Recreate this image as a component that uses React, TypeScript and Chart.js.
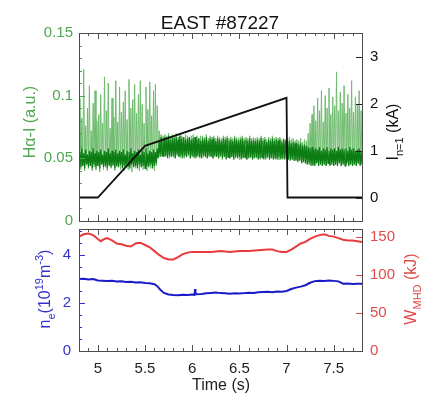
import { useEffect, useRef } from "react";
import { Chart, registerables } from "chart.js";

Chart.register(...registerables);

// ---------------- data ----------------
const TITLE = "EAST #87227";
const X_MIN = 4.8;
const X_MAX = 7.8;
const X_TICKS = [5, 5.5, 6, 6.5, 7, 7.5];

const HA_TICKS = [0, 0.05, 0.1, 0.15];
const I_TICKS = [0, 1, 2, 3];
const NE_TICKS = [0, 2, 4];
const W_TICKS = [0, 50, 100, 150];

// H-alpha samples, every 0.01 s starting at 4.80 s
const HA_T0 = 4.8;
const HA_DT = 0.01;
const HA_LIGHT = [
  0.045, 0.098, 0.041, 0.082, 0.044, 0.121, 0.040, 0.076, 0.046, 0.090,
  0.042, 0.108, 0.045, 0.072, 0.040, 0.094, 0.043, 0.104, 0.041, 0.080,
  0.044, 0.085, 0.039, 0.101, 0.046, 0.078, 0.041, 0.115, 0.043, 0.088,
  0.040, 0.110, 0.045, 0.074, 0.042, 0.098, 0.044, 0.083, 0.040, 0.112,
  0.043, 0.079, 0.046, 0.107, 0.041, 0.087, 0.044, 0.095, 0.040, 0.104,
  0.045, 0.081, 0.041, 0.113, 0.044, 0.090, 0.039, 0.097, 0.043, 0.109,
  0.042, 0.086, 0.045, 0.101, 0.040, 0.112, 0.043, 0.093, 0.041, 0.078,
  0.044, 0.107, 0.040, 0.089, 0.045, 0.111, 0.042, 0.084, 0.043, 0.104,
  0.040, 0.109, 0.044, 0.092, 0.058, 0.072, 0.054, 0.069, 0.053, 0.068,
  0.052, 0.069, 0.051, 0.068, 0.053, 0.070, 0.050, 0.067, 0.052, 0.069,
  0.051, 0.068, 0.050, 0.070, 0.052, 0.067, 0.051, 0.069, 0.050, 0.068,
  0.052, 0.067, 0.050, 0.069, 0.051, 0.068, 0.052, 0.066, 0.050, 0.068,
  0.051, 0.069, 0.050, 0.067, 0.052, 0.068, 0.051, 0.066, 0.050, 0.068,
  0.050, 0.068, 0.051, 0.067, 0.052, 0.069, 0.050, 0.066, 0.051, 0.068,
  0.052, 0.067, 0.050, 0.068, 0.051, 0.066, 0.052, 0.068, 0.050, 0.067,
  0.051, 0.066, 0.049, 0.068, 0.052, 0.067, 0.050, 0.068, 0.051, 0.066,
  0.050, 0.067, 0.051, 0.066, 0.049, 0.068, 0.050, 0.067, 0.051, 0.066,
  0.049, 0.067, 0.050, 0.068, 0.051, 0.066, 0.050, 0.067, 0.049, 0.066,
  0.051, 0.068, 0.050, 0.066, 0.049, 0.067, 0.051, 0.066, 0.050, 0.067,
  0.050, 0.066, 0.049, 0.068, 0.050, 0.066, 0.051, 0.067, 0.049, 0.065,
  0.050, 0.067, 0.049, 0.066, 0.051, 0.068, 0.050, 0.066, 0.049, 0.067,
  0.050, 0.066, 0.049, 0.067, 0.050, 0.065, 0.049, 0.066, 0.050, 0.065,
  0.050, 0.066, 0.049, 0.067, 0.050, 0.065, 0.049, 0.066, 0.048, 0.064,
  0.049, 0.065, 0.048, 0.064, 0.049, 0.066, 0.047, 0.063, 0.048, 0.065,
  0.047, 0.064, 0.046, 0.070, 0.045, 0.078, 0.046, 0.085, 0.044, 0.092,
  0.045, 0.080, 0.047, 0.098, 0.044, 0.088, 0.046, 0.104, 0.045, 0.079,
  0.047, 0.100, 0.044, 0.090, 0.046, 0.106, 0.045, 0.085, 0.047, 0.099,
  0.044, 0.092, 0.046, 0.119, 0.045, 0.088, 0.047, 0.103, 0.044, 0.094,
  0.046, 0.108, 0.045, 0.086, 0.047, 0.101, 0.044, 0.090, 0.046, 0.112,
  0.045, 0.087, 0.047, 0.099, 0.044, 0.093, 0.046, 0.104, 0.045, 0.088,
  0.047,
];
const HA_DARK = [
  0.046, 0.055, 0.043, 0.058, 0.044, 0.054, 0.042, 0.057, 0.045, 0.053,
  0.043, 0.056, 0.044, 0.055, 0.042, 0.058, 0.045, 0.054, 0.043, 0.056,
  0.044, 0.055, 0.042, 0.057, 0.045, 0.053, 0.043, 0.056, 0.044, 0.055,
  0.042, 0.058, 0.044, 0.054, 0.043, 0.056, 0.045, 0.055, 0.042, 0.057,
  0.044, 0.054, 0.043, 0.056, 0.045, 0.055, 0.042, 0.057, 0.044, 0.053,
  0.043, 0.056, 0.044, 0.055, 0.042, 0.058, 0.045, 0.054, 0.043, 0.056,
  0.044, 0.055, 0.042, 0.057, 0.045, 0.053, 0.043, 0.056, 0.044, 0.055,
  0.042, 0.058, 0.044, 0.054, 0.043, 0.056, 0.045, 0.055, 0.042, 0.057,
  0.044, 0.055, 0.046, 0.058, 0.050, 0.064, 0.051, 0.067, 0.052, 0.066,
  0.051, 0.067, 0.052, 0.066, 0.050, 0.068, 0.052, 0.065, 0.051, 0.067,
  0.052, 0.066, 0.050, 0.067, 0.053, 0.065, 0.051, 0.068, 0.052, 0.066,
  0.050, 0.067, 0.052, 0.065, 0.051, 0.066, 0.053, 0.067, 0.050, 0.065,
  0.052, 0.066, 0.051, 0.067, 0.050, 0.065, 0.052, 0.066, 0.051, 0.064,
  0.050, 0.066, 0.052, 0.065, 0.051, 0.067, 0.050, 0.064, 0.052, 0.066,
  0.051, 0.065, 0.050, 0.066, 0.052, 0.064, 0.051, 0.066, 0.050, 0.065,
  0.052, 0.064, 0.050, 0.066, 0.051, 0.065, 0.049, 0.066, 0.051, 0.064,
  0.050, 0.065, 0.051, 0.064, 0.049, 0.066, 0.051, 0.065, 0.050, 0.064,
  0.051, 0.065, 0.049, 0.066, 0.050, 0.064, 0.051, 0.065, 0.049, 0.064,
  0.050, 0.066, 0.051, 0.064, 0.049, 0.065, 0.050, 0.064, 0.051, 0.065,
  0.049, 0.064, 0.050, 0.066, 0.051, 0.064, 0.049, 0.065, 0.050, 0.063,
  0.051, 0.065, 0.049, 0.064, 0.050, 0.066, 0.049, 0.064, 0.050, 0.065,
  0.049, 0.064, 0.051, 0.065, 0.049, 0.063, 0.050, 0.065, 0.049, 0.064,
  0.050, 0.063, 0.049, 0.064, 0.048, 0.062, 0.049, 0.063, 0.048, 0.062,
  0.048, 0.062, 0.047, 0.061, 0.048, 0.062, 0.046, 0.060, 0.047, 0.061,
  0.046, 0.060, 0.045, 0.059, 0.046, 0.058, 0.044, 0.059, 0.045, 0.057,
  0.044, 0.058, 0.046, 0.057, 0.044, 0.059, 0.045, 0.056, 0.044, 0.058,
  0.045, 0.057, 0.044, 0.059, 0.046, 0.056, 0.044, 0.058, 0.045, 0.057,
  0.044, 0.058, 0.045, 0.056, 0.044, 0.059, 0.046, 0.057, 0.044, 0.058,
  0.045, 0.057, 0.044, 0.058, 0.046, 0.056, 0.044, 0.059, 0.045, 0.057,
  0.044, 0.058, 0.045, 0.056, 0.044, 0.057, 0.046, 0.058, 0.044, 0.056,
  0.045,
];

// n=1 coil current (kA)
const I_T = [4.8, 5.0, 5.5, 7.0, 7.01, 7.8];
const I_VAL = [0, 0, 1.1, 2.12, 0, 0];

// line-averaged density (1e19 m^-3)
const NE_T = [
  4.8, 4.85, 4.9, 4.95, 5.0, 5.05, 5.1, 5.15, 5.2, 5.25, 5.3, 5.35, 5.4, 5.45,
  5.5, 5.55, 5.6, 5.63, 5.66, 5.7, 5.75, 5.8, 5.85, 5.9, 5.95, 6.0, 6.025, 6.03,
  6.035, 6.1, 6.15, 6.2, 6.25, 6.3, 6.35, 6.4, 6.45, 6.5, 6.55, 6.6, 6.65, 6.7,
  6.75, 6.8, 6.85, 6.9, 6.95, 7.0, 7.05, 7.1, 7.15, 7.2, 7.25, 7.3, 7.35, 7.4,
  7.45, 7.5, 7.55, 7.6, 7.65, 7.7, 7.75, 7.8,
];
const NE_VAL = [
  3.0, 3.01, 2.98, 3.0, 2.94, 2.93, 2.91, 2.92, 2.89, 2.9, 2.87, 2.88, 2.85, 2.86,
  2.83, 2.82, 2.78, 2.7, 2.56, 2.42, 2.35, 2.33, 2.32, 2.34, 2.33, 2.35, 2.34, 2.58,
  2.36, 2.37, 2.4, 2.42, 2.44, 2.41, 2.4, 2.38, 2.4, 2.39, 2.41, 2.43, 2.42, 2.45,
  2.46, 2.47, 2.45, 2.48, 2.47, 2.5, 2.58, 2.64, 2.68, 2.74, 2.84, 2.91, 2.93, 2.92,
  2.94, 2.92, 2.9, 2.8, 2.81, 2.79, 2.8, 2.8,
];

// stored energy W_MHD (kJ)
const W_T = [
  4.8, 4.85, 4.9, 4.95, 5.0, 5.03, 5.07, 5.1, 5.15, 5.2, 5.25, 5.3, 5.35, 5.4,
  5.45, 5.5, 5.55, 5.6, 5.65, 5.7, 5.75, 5.8, 5.85, 5.9, 5.95, 6.0, 6.1, 6.2,
  6.3, 6.4, 6.5, 6.6, 6.7, 6.8, 6.85, 6.9, 6.95, 7.0, 7.05, 7.1, 7.15, 7.2,
  7.25, 7.3, 7.35, 7.4, 7.45, 7.5, 7.55, 7.6, 7.65, 7.7, 7.75, 7.8,
];
const W_VAL = [
  150, 153, 154, 152, 147, 144, 147, 148, 145, 141, 140, 138, 137, 141,
  142, 139, 136, 131, 126, 122, 120, 120, 123, 127, 129, 130, 130, 130,
  131, 130, 131, 131, 132, 133, 133, 131, 130, 130, 133, 137, 141, 143,
  147, 150, 152, 153, 151, 150, 148, 146, 145, 145, 144, 143,
];

// ---------------- styling ----------------
const FONT = '"Liberation Sans", Arial, Helvetica, sans-serif';
const GREEN_TXT = "#4ea64e";
const BLUE_TXT = "#3333cc";
const RED_TXT = "#e24a4a";

type Seg = { t: string; s?: "sub" | "sup" };

function drawRich(
  ctx: CanvasRenderingContext2D,
  segs: Seg[],
  x: number,
  y: number,
  size: number,
  color: string,
  rotate: boolean
) {
  ctx.save();
  ctx.translate(x, y);
  if (rotate) ctx.rotate(-Math.PI / 2);
  ctx.fillStyle = color;
  ctx.textAlign = "left";
  ctx.textBaseline = "alphabetic";
  const fontOf = (s?: string) => `${s ? Math.round(size * 0.68) : size}px ${FONT}`;
  let total = 0;
  for (const g of segs) {
    ctx.font = fontOf(g.s);
    total += ctx.measureText(g.t).width;
  }
  let cx = -total / 2;
  const base = size * 0.36;
  for (const g of segs) {
    ctx.font = fontOf(g.s);
    const dy = g.s === "sub" ? size * 0.32 : g.s === "sup" ? -size * 0.42 : 0;
    ctx.fillText(g.t, cx, base + dy);
    cx += ctx.measureText(g.t).width;
  }
  ctx.restore();
}

type AxisTicks = {
  id: string;
  edges: ("top" | "bottom" | "left" | "right")[];
  major: number[];
  minorStep: number;
  color: string;
};

type TextItem = {
  segs: Seg[];
  x: number;
  y: number;
  size: number;
  color: string;
  rotate: boolean;
};

function decorPlugin(axes: AxisTicks[], texts: TextItem[]) {
  return {
    id: "decor",
    afterDraw(chart: any) {
      const ctx: CanvasRenderingContext2D = chart.ctx;
      const a = chart.chartArea;
      ctx.save();
      ctx.lineWidth = 1;
      for (const ax of axes) {
        const sc = chart.scales[ax.id];
        const vals: { v: number; major: boolean }[] = ax.major.map((v) => ({ v, major: true }));
        if (ax.minorStep > 0) {
          const n0 = Math.ceil(sc.min / ax.minorStep - 1e-9);
          const n1 = Math.floor(sc.max / ax.minorStep + 1e-9);
          for (let k = n0; k <= n1; k++) {
            const v = k * ax.minorStep;
            if (!ax.major.some((m) => Math.abs(m - v) < 1e-9)) vals.push({ v, major: false });
          }
        }
        ctx.strokeStyle = ax.color;
        ctx.beginPath();
        for (const { v, major } of vals) {
          const p = Math.round(sc.getPixelForValue(v)) + 0.5;
          const len = major ? 6 : 3;
          for (const e of ax.edges) {
            if (e === "top" || e === "bottom") {
              if (p < a.left || p > a.right) continue;
              const y0 = e === "top" ? a.top : a.bottom;
              const d = e === "top" ? len : -len;
              ctx.moveTo(p, y0);
              ctx.lineTo(p, y0 + d);
            } else {
              if (p < a.top || p > a.bottom) continue;
              const x0 = e === "left" ? a.left : a.right;
              const d = e === "left" ? len : -len;
              ctx.moveTo(x0, p);
              ctx.lineTo(x0 + d, p);
            }
          }
        }
        ctx.stroke();
      }
      ctx.strokeStyle = "#4a4a4a";
      ctx.strokeRect(Math.round(a.left) + 0.5, Math.round(a.top) + 0.5, Math.round(a.width), Math.round(a.height));
      ctx.restore();
      for (const t of texts) drawRich(ctx, t.segs, t.x, t.y, t.size, t.color, t.rotate);
    },
  };
}

const pts = (xs: number[], ys: number[]) => xs.map((x, i) => ({ x, y: ys[i] }));
const haPts = (vals: number[]) =>
  vals.map((y, i) => ({ x: Math.round((HA_T0 + i * HA_DT) * 1000) / 1000, y }));

const setTicks = (arr: number[]) => (scale: any) => {
  scale.ticks = arr.map((v) => ({ value: v }));
};

const tickFont = { family: FONT, size: 15 };

function topConfig(): any {
  return {
    type: "line",
    data: {
      datasets: [
        {
          label: "I n=1",
          data: pts(I_T, I_VAL),
          yAxisID: "yR",
          borderColor: "#111111",
          borderWidth: 1.8,
          order: 0,
        },
        {
          label: "Hα dark",
          data: haPts(HA_DARK),
          yAxisID: "yL",
          borderColor: "#0b7d12",
          borderWidth: 1.2,
          order: 1,
        },
        {
          label: "Hα",
          data: haPts(HA_LIGHT),
          yAxisID: "yL",
          borderColor: "#6fbb6f",
          borderWidth: 1,
          order: 2,
        },
      ],
    },
    options: {
      responsive: false,
      animation: false,
      devicePixelRatio: 1,
      events: [],
      layout: { padding: { top: 33, bottom: 176, left: 0, right: 0 } },
      elements: { point: { radius: 0 }, line: { tension: 0 } },
      plugins: { legend: { display: false }, tooltip: { enabled: false }, title: { display: false } },
      scales: {
        x: { type: "linear", min: X_MIN, max: X_MAX, display: false, afterBuildTicks: setTicks(X_TICKS) },
        yL: {
          type: "linear",
          position: "left",
          min: 0,
          max: 0.15,
          afterBuildTicks: setTicks(HA_TICKS),
          afterFit: (s: any) => { s.width = 79; },
          grid: { display: false, drawTicks: false },
          border: { display: false },
          ticks: { color: GREEN_TXT, font: tickFont, padding: 6, callback: (v: number) => String(v) },
        },
        yR: {
          type: "linear",
          position: "right",
          min: -0.5,
          max: 3.5,
          afterBuildTicks: setTicks(I_TICKS),
          afterFit: (s: any) => { s.width = 61; },
          grid: { display: false, drawTicks: false },
          border: { display: false },
          ticks: { color: "#111", font: tickFont, padding: 8, callback: (v: number) => String(v) },
        },
      },
    },
    plugins: [
      decorPlugin(
        [
          { id: "x", edges: ["top", "bottom"], major: X_TICKS, minorStep: 0.1, color: "#555" },
          { id: "yL", edges: ["left"], major: HA_TICKS, minorStep: 0.01, color: GREEN_TXT },
          { id: "yR", edges: ["right"], major: I_TICKS, minorStep: 0, color: "#222" },
        ],
        [
          { segs: [{ t: TITLE }], x: 220, y: 22, size: 19, color: "#111", rotate: false },
          { segs: [{ t: "Hα-I (a.u.)" }], x: 29, y: 122, size: 16, color: GREEN_TXT, rotate: true },
          {
            segs: [{ t: "I" }, { t: "n=1", s: "sub" }, { t: " (kA)" }],
            x: 392,
            y: 132,
            size: 16,
            color: "#111",
            rotate: true,
          },
        ]
      ),
    ],
  };
}

function bottomConfig(): any {
  return {
    type: "line",
    data: {
      datasets: [
        {
          label: "W_MHD",
          data: pts(W_T, W_VAL),
          yAxisID: "yR",
          borderColor: "#e83a3a",
          borderWidth: 2,
        },
        {
          label: "n_e",
          data: pts(NE_T, NE_VAL),
          yAxisID: "yL",
          borderColor: "#1a1ac8",
          borderWidth: 2,
        },
      ],
    },
    options: {
      responsive: false,
      animation: false,
      devicePixelRatio: 1,
      events: [],
      layout: { padding: { top: 229, bottom: 0, left: 0, right: 0 } },
      elements: { point: { radius: 0 }, line: { tension: 0 } },
      plugins: { legend: { display: false }, tooltip: { enabled: false }, title: { display: false } },
      scales: {
        x: {
          type: "linear",
          position: "bottom",
          min: X_MIN,
          max: X_MAX,
          afterBuildTicks: setTicks(X_TICKS),
          afterFit: (s: any) => { s.height = 46; },
          grid: { display: false, drawTicks: false },
          border: { display: false },
          ticks: { color: "#222", font: tickFont, padding: 9, maxRotation: 0, autoSkip: false, callback: (v: number) => String(v) },
        },
        yL: {
          type: "linear",
          position: "left",
          min: 0,
          max: 5.08,
          afterBuildTicks: setTicks(NE_TICKS),
          afterFit: (s: any) => { s.width = 79; },
          grid: { display: false, drawTicks: false },
          border: { display: false },
          ticks: { color: BLUE_TXT, font: tickFont, padding: 8, callback: (v: number) => String(v) },
        },
        yR: {
          type: "linear",
          position: "right",
          min: 0,
          max: 160,
          afterBuildTicks: setTicks(W_TICKS),
          afterFit: (s: any) => { s.width = 61; },
          grid: { display: false, drawTicks: false },
          border: { display: false },
          ticks: { color: RED_TXT, font: tickFont, padding: 8, callback: (v: number) => String(v) },
        },
      },
    },
    plugins: [
      decorPlugin(
        [
          { id: "x", edges: ["top", "bottom"], major: X_TICKS, minorStep: 0.1, color: "#555" },
          { id: "yL", edges: ["left"], major: NE_TICKS, minorStep: 0.5, color: BLUE_TXT },
          { id: "yR", edges: ["right"], major: W_TICKS, minorStep: 0, color: RED_TXT },
        ],
        [
          {
            segs: [{ t: "n" }, { t: "e", s: "sub" }, { t: "(10" }, { t: "19", s: "sup" }, { t: "m" }, { t: "-3", s: "sup" }, { t: ")" }],
            x: 44,
            y: 289,
            size: 16,
            color: BLUE_TXT,
            rotate: true,
          },
          {
            segs: [{ t: "W" }, { t: "MHD", s: "sub" }, { t: " (kJ)" }],
            x: 410,
            y: 289,
            size: 16,
            color: RED_TXT,
            rotate: true,
          },
          { segs: [{ t: "Time (s)" }], x: 221, y: 384, size: 16, color: "#222", rotate: false },
        ]
      ),
    ],
  };
}

export default function App() {
  const topRef = useRef<HTMLCanvasElement>(null);
  const botRef = useRef<HTMLCanvasElement>(null);
  useEffect(() => {
    const a = new Chart(topRef.current as HTMLCanvasElement, topConfig());
    const b = new Chart(botRef.current as HTMLCanvasElement, bottomConfig());
    return () => {
      a.destroy();
      b.destroy();
    };
  }, []);
  return (
    <div style={{ position: "absolute", left: 0, top: 0, width: 423, height: 397, background: "#fff" }}>
      <canvas ref={topRef} width={423} height={397} style={{ position: "absolute", left: 0, top: 0 }} />
      <canvas ref={botRef} width={423} height={397} style={{ position: "absolute", left: 0, top: 0 }} />
    </div>
  );
}
